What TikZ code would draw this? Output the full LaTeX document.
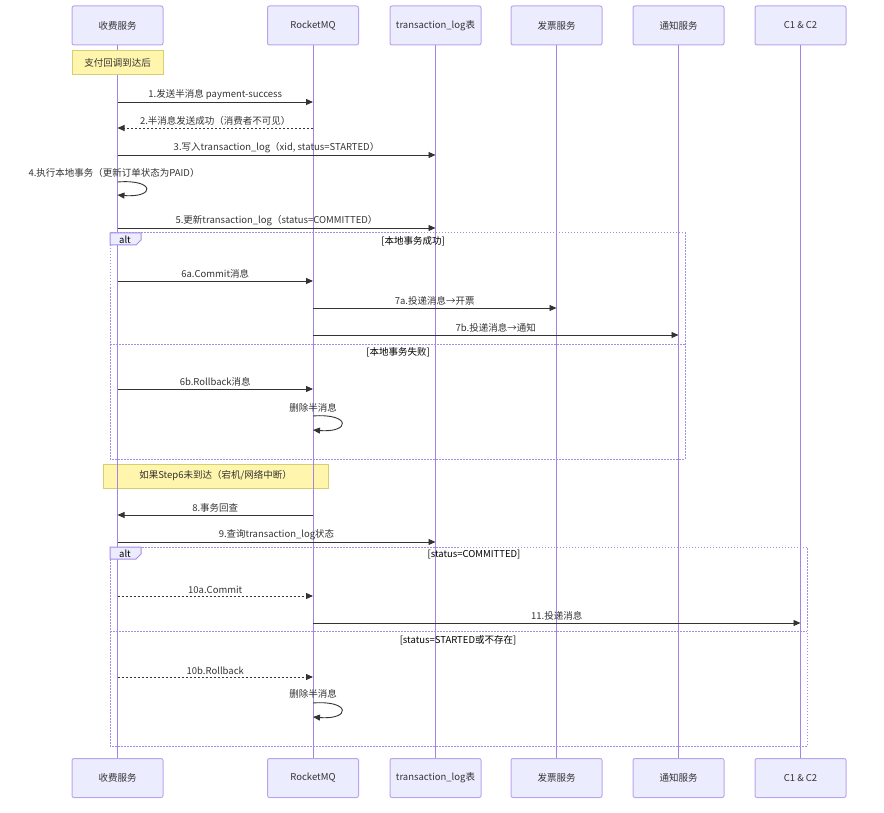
\documentclass[tikz,border=0pt]{standalone}
\usepackage{fontspec}
\setmainfont{Noto Sans CJK SC}
\usetikzlibrary{arrows.meta}
\definecolor{actfill}{HTML}{ECECFF}
\definecolor{actline}{HTML}{BBA4EE}
\definecolor{lifecol}{HTML}{A284E2}
\definecolor{notefill}{HTML}{FFF5AD}
\definecolor{noteline}{HTML}{D4CF72}
\definecolor{msgcol}{HTML}{333333}
\definecolor{altcol}{HTML}{A88BE6}

\begin{document}
\begin{tikzpicture}[x=1pt, y=-1pt,
  actor/.style={draw=actline, fill=actfill, line width=1pt, rounded corners=2pt, minimum width=91pt, minimum height=39pt, font=\fontsize{9.5}{11}\selectfont, text=msgcol},
  note/.style={draw=noteline, fill=notefill, line width=1pt, minimum height=24pt, font=\fontsize{9.5}{11}\selectfont, text=msgcol},
  life/.style={draw=lifecol, line width=1pt},
  msg/.style={draw=msgcol, line width=0.9pt, -{Triangle[length=7pt,width=6pt]}},
  reply/.style={msg, dash pattern=on 2pt off 2pt},
  lbl/.style={font=\fontsize{9.5}{11}\selectfont, text=msgcol, inner sep=2pt},
  frame/.style={draw=altcol, line width=1pt, dash pattern=on 1.5pt off 1.5pt},
  tab/.style={draw=altcol, fill=actfill, line width=1pt},
  cond/.style={font=\fontsize{9.5}{11}\selectfont, text=black, inner sep=0pt}
]
\useasboundingbox (0,0) rectangle (884,813);

\node[actor] (pay) at (117.5,25.5) {收费服务};
\node[actor] (mq) at (313,25.5) {RocketMQ};
\node[actor] (log) at (435.5,25.5) {transaction\_log表};
\node[actor] (inv) at (556.5,25.5) {发票服务};
\node[actor] (ntf) at (678.5,25.5) {通知服务};
\node[actor] (cc) at (800.5,25.5) {C1 \& C2};

\node[actor] (payb) at (117.5,778) {收费服务};
\node[actor] (mqb) at (313,778) {RocketMQ};
\node[actor] (logb) at (435.5,778) {transaction\_log表};
\node[actor] (invb) at (556.5,778) {发票服务};
\node[actor] (ntfb) at (678.5,778) {通知服务};
\node[actor] (ccb) at (800.5,778) {C1 \& C2};

\node[note, minimum width=225pt] (down) at (215.5,476) {如果Step6未到达（宕机/网络中断）};

\draw[life] (pay) -- (payb);
\draw[life] (mq) -- (mqb);
\draw[life] (log) -- (logb);
\draw[life] (inv) -- (invb);
\draw[life] (ntf) -- (ntfb);
\draw[life] (cc) -- (ccb);

\node[note, minimum width=91pt] (cb) at (117.5,63) {支付回调到达后};

\coordinate (m1) at (0,102);
\coordinate (m2) at (0,128);
\coordinate (m3) at (0,155);
\coordinate (m4a) at (0,182);
\coordinate (m4b) at (0,195);
\coordinate (m5) at (0,228);
\coordinate (m6a) at (0,281);
\coordinate (m7a) at (0,308);
\coordinate (m7b) at (0,335);
\coordinate (m6b) at (0,389);
\coordinate (d1a) at (0,416);
\coordinate (d1b) at (0,430);
\coordinate (m8) at (0,515);
\coordinate (m9) at (0,542);
\coordinate (m10a) at (0,596);
\coordinate (m11) at (0,623);
\coordinate (m10b) at (0,677);
\coordinate (d2a) at (0,703);
\coordinate (d2b) at (0,717);

\draw[msg] (pay |- m1) -- node[lbl, above] {1.发送半消息 payment-success} (mq |- m1);
\draw[reply] (mq |- m2) -- node[lbl, above] {2.半消息发送成功（消费者不可见）} (pay |- m2);
\draw[msg] (pay |- m3) -- node[lbl, above] {3.写入transaction\_log（xid, status=STARTED）} (log |- m3);
\node[lbl] (m4l) at (114,173) {4.执行本地事务（更新订单状态为PAID）};
\draw[msg] (pay |- m4a) .. controls +(38,-3) and +(38,3) .. (pay |- m4b);
\draw[msg] (pay |- m5) -- node[lbl, above] {5.更新transaction\_log（status=COMMITTED）} (log |- m5);

\draw[frame] (110,233) rectangle (685,459);
\draw[frame] (110,344) -- (685,344);
\draw[tab] (110,233) -- (141,233) -- (141,240) -- (136,245) -- (110,245) -- cycle;
\node[cond] (alt1) at (125,239.5) {alt};
\node[cond] (ok1) at (413,241) {[本地事务成功]};
\node[cond] (ng1) at (398,352) {[本地事务失败]};

\draw[msg] (pay |- m6a) -- node[lbl, above] {6a.Commit消息} (mq |- m6a);
\draw[msg] (mq |- m7a) -- node[lbl, above] {7a.投递消息→开票} (inv |- m7a);
\draw[msg] (mq |- m7b) -- node[lbl, above] {7b.投递消息→通知} (ntf |- m7b);
\draw[msg] (pay |- m6b) -- node[lbl, above] {6b.Rollback消息} (mq |- m6b);
\node[lbl] (del1) at (313,408) {删除半消息};
\draw[msg] (mq |- d1a) .. controls +(38,-3) and +(38,3) .. (mq |- d1b);

\draw[msg] (mq |- m8) -- node[lbl, above] {8.事务回查} (pay |- m8);
\draw[msg] (pay |- m9) -- node[lbl, above] {9.查询transaction\_log状态} (log |- m9);

\draw[frame] (110,547) rectangle (807,746);
\draw[frame] (110,631) -- (807,631);
\draw[tab] (110,547) -- (141,547) -- (141,554) -- (136,559) -- (110,559) -- cycle;
\node[cond] (alt2) at (125,553.5) {alt};
\node[cond] (ok2) at (474,555) {[status=COMMITTED]};
\node[cond] (ng2) at (458,640) {[status=STARTED或不存在]};

\draw[reply] (pay |- m10a) -- node[lbl, above] {10a.Commit} (mq |- m10a);
\draw[msg] (mq |- m11) -- node[lbl, above] {11.投递消息} (cc |- m11);
\draw[reply] (pay |- m10b) -- node[lbl, above] {10b.Rollback} (mq |- m10b);
\node[lbl] (del2) at (313,694) {删除半消息};
\draw[msg] (mq |- d2a) .. controls +(38,-3) and +(38,3) .. (mq |- d2b);
\end{tikzpicture}
\end{document}
